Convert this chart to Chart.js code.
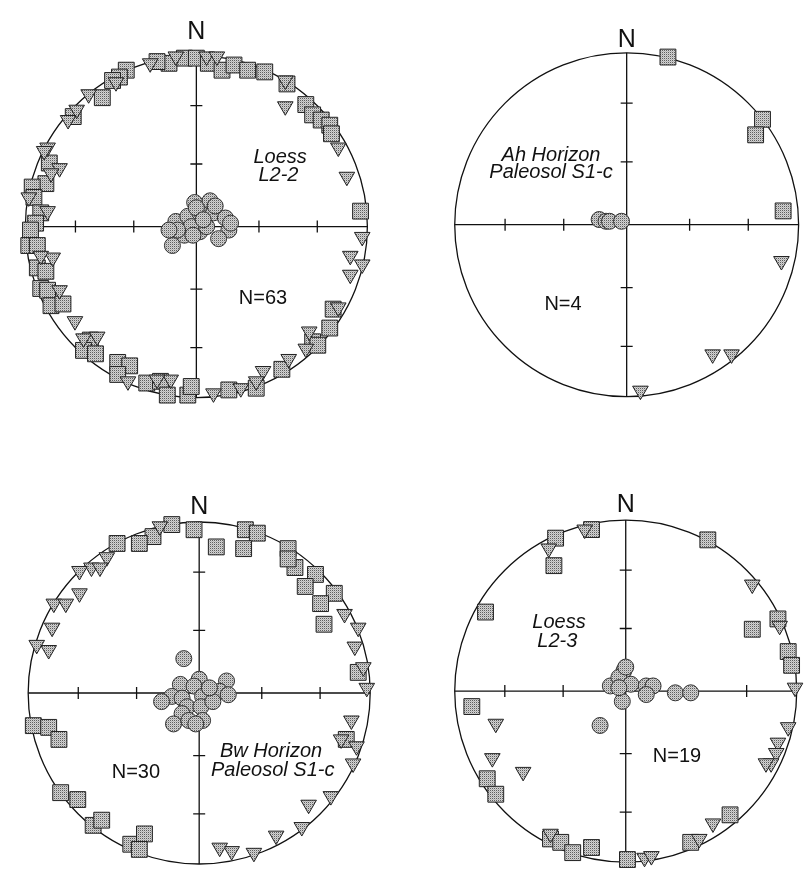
<!DOCTYPE html>
<html>
<head>
<meta charset="utf-8">
<script src="https://cdn.jsdelivr.net/npm/chart.js@4.4.1/dist/chart.umd.min.js"></script>
<style>
  html, body { margin: 0; padding: 0; background: #fff; }
  #wrap { position: relative; width: 808px; height: 878px; overflow: hidden; background: #fff; }
  #wrap canvas { position: absolute; }
</style>
</head>
<body>
<div id="wrap">
  <canvas id="c1" width="404" height="440" style="left:0;top:0"></canvas>
  <canvas id="c2" width="404" height="440" style="left:404px;top:0"></canvas>
  <canvas id="c3" width="404" height="438" style="left:0;top:440px"></canvas>
  <canvas id="c4" width="404" height="438" style="left:404px;top:440px"></canvas>
</div>
<script>
// equal-area net coordinates (radius of net = 1), x = east, y = north
// squares = kmax, triangles = kint, circles = kmin

// Loess L2-2
const l22Max = [[-0.07,0.98],[0.00,0.98],[0.07,0.95],[0.15,0.91],[0.22,0.94],[0.30,0.91],[0.40,0.90],[0.53,0.83],
  [-0.16,0.95],[-0.23,0.96],[-0.41,0.91],[-0.45,0.87],[-0.49,0.85],[-0.55,0.75],[-0.72,0.64],[0.64,0.71],[0.68,0.65],
  [0.73,0.62],[0.78,0.59],[0.79,0.54],[0.96,0.09],[-0.86,0.37],[-0.88,0.25],[-0.96,0.23],[-0.95,0.17],[-0.91,0.08],
  [-0.94,0.02],[-0.97,-0.02],[-0.98,-0.11],[-0.93,-0.11],[-0.93,-0.24],[-0.88,-0.26],[-0.91,-0.36],[-0.87,-0.37],
  [-0.85,-0.46],[-0.78,-0.45],[-0.62,-0.66],[-0.66,-0.72],[-0.59,-0.74],[-0.46,-0.79],[-0.39,-0.81],[-0.46,-0.86],
  [-0.29,-0.91],[-0.21,-0.90],[-0.17,-0.98],[-0.05,-0.98],[-0.03,-0.93],[0.19,-0.95],[0.35,-0.94],[0.50,-0.83],
  [0.68,-0.67],[0.78,-0.59],[0.80,-0.48],[0.71,-0.69]];
const l22Int = [[-0.27,0.95],[-0.12,0.99],[0.06,0.99],[0.12,0.99],[0.52,0.85],[0.52,0.70],[-0.63,0.77],[-0.70,0.68],
  [-0.75,0.62],[-0.87,0.46],[-0.89,0.44],[-0.80,0.34],[-0.85,0.31],[0.83,0.46],[0.88,0.29],[-0.98,0.17],[-0.87,0.09],
  [-0.47,0.84],[0.97,-0.06],[0.90,-0.17],[0.97,-0.22],[0.90,-0.28],[-0.84,-0.18],[-0.91,-0.17],[-0.80,-0.37],
  [-0.71,-0.55],[-0.66,-0.65],[-0.58,-0.64],[-0.40,-0.90],[-0.15,-0.89],[0.10,-0.97],[0.26,-0.94],[0.39,-0.84],
  [0.54,-0.77],[0.66,-0.61],[0.64,-0.71],[0.83,-0.47],[0.35,-0.90],[-0.23,-0.89]];
const l22Min = [[-0.01,0.14],[0.08,0.15],[-0.12,0.03],[-0.05,0.06],[0.02,0.08],[0.10,0.08],[0.17,0.05],[0.19,-0.02],
  [-0.14,-0.11],[-0.07,-0.05],[0.02,-0.03],[0.13,-0.07],[-0.03,0.00],[0.06,0.00],[-0.11,-0.02],[0.00,0.11],
  [0.04,0.04],[-0.16,-0.02],[0.11,0.12],[-0.02,-0.05],[0.20,0.02]];

// Ah Horizon, Paleosol S1-c
const ahMax = [[0.24,0.97],[0.79,0.61],[0.75,0.52],[0.91,0.08]];
const ahInt = [[0.90,-0.21],[0.50,-0.75],[0.61,-0.75],[0.08,-0.96]];
const ahMin = [[-0.16,0.03],[-0.12,0.02],[-0.10,0.02],[-0.03,0.02]];

// Bw Horizon, Paleosol S1-c
const bwMax = [[-0.16,0.98],[-0.03,0.95],[-0.27,0.91],[-0.35,0.87],[-0.48,0.87],[0.27,0.95],[0.34,0.93],[0.26,0.84],
  [0.10,0.85],[0.52,0.84],[0.56,0.73],[0.52,0.78],[0.68,0.69],[0.62,0.62],[0.79,0.58],[0.71,0.52],[0.73,0.40],
  [0.93,0.12],[-0.97,-0.19],[-0.88,-0.20],[-0.82,-0.27],[-0.81,-0.58],[-0.71,-0.62],[-0.62,-0.77],[-0.57,-0.74],
  [-0.40,-0.88],[-0.32,-0.82],[-0.35,-0.91],[0.86,-0.27]];
const bwInt = [[-0.54,0.79],[-0.63,0.73],[-0.58,0.73],[-0.70,0.71],[-0.70,0.58],[-0.85,0.52],[-0.78,0.52],
  [-0.86,0.38],[-0.95,0.28],[-0.88,0.25],[-0.23,0.97],[0.85,0.46],[0.93,0.38],[0.91,0.27],[0.96,0.15],[0.98,0.03],
  [0.89,-0.16],[0.83,-0.27],[0.92,-0.31],[0.90,-0.41],[0.77,-0.60],[0.64,-0.65],[0.60,-0.78],[0.45,-0.83],
  [0.32,-0.93],[0.19,-0.92],[0.12,-0.90]];
const bwMin = [[-0.09,0.20],[0.00,0.08],[-0.11,0.05],[0.16,0.07],[-0.03,0.04],[-0.16,-0.02],[-0.22,-0.05],
  [-0.10,-0.03],[0.02,-0.02],[0.12,0.01],[0.17,-0.01],[-0.07,-0.08],[0.01,-0.08],[-0.10,-0.12],[-0.15,-0.18],
  [-0.06,-0.16],[0.02,-0.16],[-0.02,-0.18],[0.08,-0.05],[0.06,0.03]];

// Loess L2-3
const l23Max = [[-0.41,0.89],[-0.20,0.94],[-0.42,0.73],[-0.82,0.46],[0.48,0.88],[0.74,0.36],[0.89,0.42],[0.95,0.23],
  [0.97,0.15],[-0.90,-0.09],[-0.81,-0.51],[-0.76,-0.60],[-0.44,-0.86],[-0.38,-0.88],[-0.31,-0.94],[-0.20,-0.91],
  [0.01,-0.98],[0.38,-0.88],[0.61,-0.72]];
const l23Int = [[-0.24,0.94],[-0.45,0.83],[0.74,0.62],[0.90,0.38],[0.99,0.02],[-0.76,-0.19],[-0.78,-0.39],
  [-0.60,-0.47],[-0.44,-0.83],[0.11,-0.97],[0.15,-0.96],[0.43,-0.86],[0.51,-0.77],[0.95,-0.21],[0.89,-0.30],
  [0.88,-0.36],[0.85,-0.42],[0.82,-0.42]];
const l23Min = [[-0.09,0.03],[-0.01,0.12],[-0.04,0.08],[0.03,0.04],[-0.02,-0.06],[0.12,0.03],[0.16,0.03],
  [0.12,-0.02],[0.29,-0.01],[0.38,-0.01],[-0.15,-0.20],[-0.04,0.02],[0.00,0.14]];

// inclinations marked on the axes (degrees)
const tickIncl = [30, 60];

// equal-area radius for an inclination
function eqArea(inc) {
  return Math.SQRT2 * Math.sin((90 - inc) / 2 * Math.PI / 180);
}

// stippled grey fill (fine dot screen)
function stipple() {
  const c = document.createElement('canvas');
  c.width = 2; c.height = 2;
  const g = c.getContext('2d');
  g.fillStyle = '#d2d2d2';
  g.fillRect(0, 0, 2, 2);
  g.fillStyle = '#5e5e5e';
  g.fillRect(0, 0, 1, 1);
  g.fillStyle = '#b4b4b4';
  g.fillRect(1, 1, 1, 1);
  return g.createPattern(c, 'repeat');
}
const fill = stipple();

const netPlugin = {
  id: 'net',
  beforeDatasetsDraw(chart) {
    const { ctx, scales: { x, y } } = chart;
    const cx = x.getPixelForValue(0), cy = y.getPixelForValue(0);
    const r = x.getPixelForValue(1) - cx;
    ctx.save();
    ctx.strokeStyle = '#111';
    ctx.lineWidth = 1.3;
    ctx.beginPath();
    ctx.arc(cx, cy, r, 0, Math.PI * 2);
    ctx.stroke();
    ctx.beginPath();
    ctx.moveTo(cx - r, cy); ctx.lineTo(cx + r, cy);
    ctx.moveTo(cx, cy - r); ctx.lineTo(cx, cy + r);
    tickIncl.forEach(inc => {
      const d = eqArea(inc) * r;
      [-1, 1].forEach(s => {
        ctx.moveTo(cx + s * d, cy - 6); ctx.lineTo(cx + s * d, cy + 6);
        ctx.moveTo(cx - 6, cy + s * d); ctx.lineTo(cx + 6, cy + s * d);
      });
    });
    ctx.stroke();
    ctx.restore();
  },
  afterDraw(chart, args, opts) {
    const { ctx, scales: { x, y } } = chart;
    ctx.save();
    ctx.fillStyle = '#111';
    ctx.textAlign = 'center';
    ctx.textBaseline = 'middle';
    (opts.labels || []).forEach(l => {
      ctx.font = (l.italic ? 'italic ' : '') + l.size + 'px "Liberation Sans", Arial, sans-serif';
      ctx.fillText(l.text, x.getPixelForValue(l.x), y.getPixelForValue(l.y));
    });
    ctx.restore();
  }
};

// where each net sits on the page (pixels)
const boxes = {
  c1: { left: 0,   top: 0,   w: 404, h: 440, cx: 196, cy: 227, r: 182 },
  c2: { left: 404, top: 0,   w: 404, h: 440, cx: 628, cy: 225, r: 183 },
  c3: { left: 0,   top: 440, w: 404, h: 438, cx: 199, cy: 695, r: 182 },
  c4: { left: 404, top: 440, w: 404, h: 438, cx: 627, cy: 693, r: 182 }
};

const panels = [
  { id: 'c1', max: l22Max, int: l22Int, min: l22Min, labels: [
    { text: 'N', x: 0, y: 1.13, size: 25 },
    { text: 'Loess', x: 0.49, y: 0.40, size: 20, italic: true },
    { text: 'L2-2', x: 0.48, y: 0.30, size: 20, italic: true },
    { text: 'N=63', x: 0.39, y: -0.42, size: 20 } ] },
  { id: 'c2', max: ahMax, int: ahInt, min: ahMin, labels: [
    { text: 'N', x: 0, y: 1.07, size: 25 },
    { text: 'Ah Horizon', x: -0.44, y: 0.40, size: 20, italic: true },
    { text: 'Paleosol S1-c', x: -0.44, y: 0.30, size: 20, italic: true },
    { text: 'N=4', x: -0.37, y: -0.46, size: 20 } ] },
  { id: 'c3', max: bwMax, int: bwInt, min: bwMin, labels: [
    { text: 'N', x: 0, y: 1.08, size: 25 },
    { text: 'Bw Horizon', x: 0.42, y: -0.34, size: 20, italic: true },
    { text: 'Paleosol S1-c', x: 0.43, y: -0.45, size: 20, italic: true },
    { text: 'N=30', x: -0.37, y: -0.46, size: 20 } ] },
  { id: 'c4', max: l23Max, int: l23Int, min: l23Min, labels: [
    { text: 'N', x: 0, y: 1.08, size: 25 },
    { text: 'Loess', x: -0.39, y: 0.40, size: 20, italic: true },
    { text: 'L2-3', x: -0.40, y: 0.29, size: 20, italic: true },
    { text: 'N=19', x: 0.30, y: -0.38, size: 20 } ] }
];

const toXY = arr => arr.map(p => ({ x: p[0], y: p[1] }));

panels.forEach(p => {
  const b = boxes[p.id];
  new Chart(document.getElementById(p.id), {
    type: 'scatter',
    data: {
      datasets: [
        { label: 'Kint', data: toXY(p.int), pointStyle: 'triangle', rotation: 180, pointRadius: 9,
          backgroundColor: fill, borderColor: '#222', borderWidth: 1, clip: false },
        { label: 'Kmax', data: toXY(p.max), pointStyle: 'rect', pointRadius: 11.2,
          backgroundColor: fill, borderColor: '#222', borderWidth: 1, clip: false },
        { label: 'Kmin', data: toXY(p.min), pointStyle: 'circle', pointRadius: 8,
          backgroundColor: fill, borderColor: '#333', borderWidth: 1, clip: false }
      ]
    },
    options: {
      responsive: false,
      animation: false,
      events: [],
      layout: { padding: 0 },
      scales: {
        x: { type: 'linear', display: false, min: (b.left - b.cx) / b.r, max: (b.left + b.w - b.cx) / b.r },
        y: { type: 'linear', display: false, min: (b.cy - b.top - b.h) / b.r, max: (b.cy - b.top) / b.r }
      },
      plugins: {
        legend: { display: false },
        tooltip: { enabled: false },
        net: { labels: p.labels }
      }
    },
    plugins: [netPlugin]
  });
});
</script>
</body>
</html>
